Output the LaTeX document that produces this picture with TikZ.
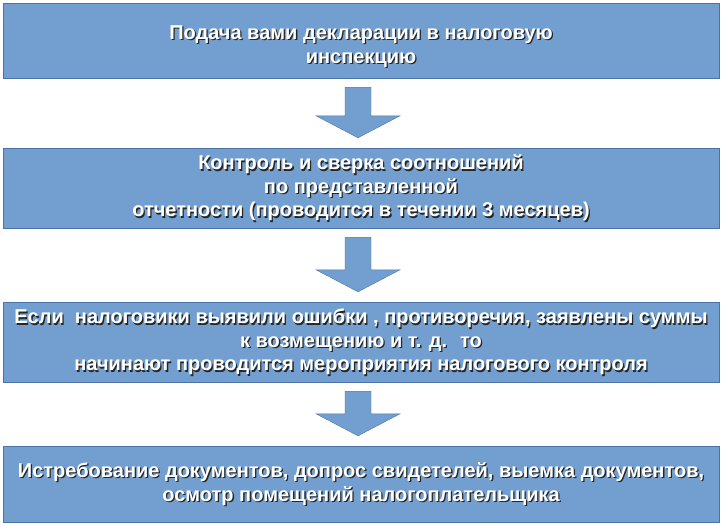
\documentclass[tikz,border=0pt]{standalone}
\usepackage{fontspec}
\setmainfont{Liberation Sans}
\usetikzlibrary{calc}
\definecolor{boxfill}{HTML}{729FCF}
\definecolor{boxline}{HTML}{4A72A8}
\begin{document}
\begin{tikzpicture}[x=1pt, y=-1pt,
stagebox/.style={draw=boxline, fill=boxfill, minimum width=716pt, inner sep=0pt},
shade/.style={align=center, font=\fontsize{20}{23.5}\selectfont\bfseries, text=black!85},
label/.style={align=center, font=\fontsize{20}{23.5}\selectfont\bfseries, text=white},
downarrow/.style={draw=boxline, fill=boxfill}]
\useasboundingbox (0,0) rectangle (722,525);

% boxes
\node[stagebox, minimum height=75pt] (b1) at (361,40.5) {};
\node[stagebox, minimum height=80pt] (b2) at (361,188) {};
\node[stagebox, minimum height=80pt] (b3) at (361,342) {};
\node[stagebox, minimum height=76pt] (b4) at (361,484) {};

% texts, with their shadows
\node[shade] at ($(b1.center)+(1.3,7.3)$) {Подача вами декларации в налоговую\\инспекцию};
\node[label] (t1) at ($(b1.center)+(0,6)$) {Подача вами декларации в налоговую\\инспекцию};
\node[shade] at ($(b2)+(1.3,1.3)$) {Контроль и сверка соотношений\\по представленной\\отчетности (проводится в течении 3 месяцев)};
\node[label] (t2) at (b2) {Контроль и сверка соотношений\\по представленной\\отчетности (проводится в течении 3 месяцев)};
\node[shade] at ($(b3)+(1.3,1.3)$) {Если~ налоговики выявили ошибки , противоречия, заявлены суммы\\к возмещению и т. д.~ то\\начинают проводится мероприятия налогового контроля};
\node[label] (t3) at (b3) {Если~ налоговики выявили ошибки , противоречия, заявлены суммы\\к возмещению и т. д.~ то\\начинают проводится мероприятия налогового контроля};
\node[shade] at ($(b4)+(1.3,1.3)$) {Истребование документов, допрос свидетелей, выемка документов,\\осмотр помещений налогоплательщика};
\node[label] (t4) at (b4) {Истребование документов, допрос свидетелей, выемка документов,\\осмотр помещений налогоплательщика};

% arrows
\foreach \a/\b in {b1/b2, b2/b3, b3/b4} {
  \coordinate (top) at ($(\a.south)+(-3,9)$);
  \coordinate (tip) at ($(\b.north)+(-3,-10)$);
  \draw[downarrow] ($(top)+(-13,0)$) -- ($(top)+(13,0)$) -- ($(tip)+(13,-22)$) -- ($(tip)+(42,-22)$)
    -- (tip) -- ($(tip)+(-42,-22)$) -- ($(tip)+(-13,-22)$) -- cycle;
}
\end{tikzpicture}
\end{document}
